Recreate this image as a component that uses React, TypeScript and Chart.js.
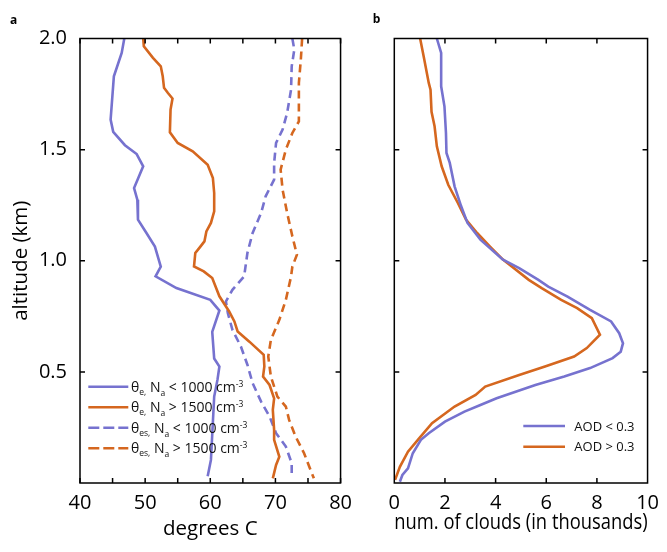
import React, { useEffect, useRef } from "react";
import { Chart, registerables } from "chart.js";
Chart.register(...registerables);

const BLUE = "#7672CF";
const ORANGE = "#D5671F";
const FONT = "'Open Sans', sans-serif";

// ---- Panel a: temperature profiles (degrees C) vs altitude (km)
const altThetaELow = [2.0, 1.935, 1.83, 1.635, 1.58, 1.52, 1.48, 1.425, 1.327, 1.275, 1.185, 1.125, 1.064, 0.974, 0.93, 0.877, 0.824, 0.776, 0.68, 0.56, 0.524, 0.464, 0.389, 0.104, 0.03];
const thetaELow = [46.8, 46.4, 45.2, 44.7, 45.1, 46.9, 48.7, 49.7, 48.3, 48.8, 48.9, 50.2, 51.5, 52.4, 51.6, 54.8, 60.0, 61.4, 60.3, 60.6, 61.4, 61.1, 60.6, 60.1, 59.6];

const altThetaEHigh = [2.0, 1.965, 1.913, 1.875, 1.83, 1.778, 1.755, 1.73, 1.68, 1.578, 1.53, 1.492, 1.432, 1.372, 1.305, 1.222, 1.17, 1.132, 1.087, 1.057, 1.035, 0.974, 0.952, 0.922, 0.84, 0.772, 0.727, 0.682, 0.636, 0.577, 0.524, 0.479, 0.441, 0.381, 0.329, 0.239, 0.194, 0.118, 0.081, 0.021];
const thetaEHigh = [49.7, 49.8, 51.2, 52.4, 52.7, 52.9, 53.5, 54.2, 53.9, 53.8, 55.0, 57.3, 59.6, 60.4, 60.6, 60.6, 60.1, 59.4, 59.1, 58.3, 57.7, 57.5, 59.0, 60.3, 61.4, 62.9, 63.7, 64.2, 66.0, 68.2, 68.3, 68.1, 69.1, 69.8, 69.6, 69.8, 69.8, 70.6, 70.1, 69.6];

const altThetaESLow = [2.0, 1.95, 1.875, 1.77, 1.665, 1.59, 1.53, 1.44, 1.365, 1.29, 1.215, 1.125, 1.035, 0.93, 0.869, 0.817, 0.764, 0.689, 0.614, 0.532, 0.449, 0.366, 0.299, 0.224, 0.164, 0.089, 0.03];
const thetaESLow = [72.6, 72.9, 72.5, 72.4, 71.8, 71.1, 70.1, 69.8, 69.8, 68.5, 67.8, 66.5, 65.7, 65.2, 63.4, 62.4, 62.7, 63.4, 64.7, 65.7, 66.5, 67.8, 69.1, 70.1, 71.6, 72.5, 72.5];

const altThetaESHigh = [2.0, 1.905, 1.8, 1.627, 1.575, 1.5, 1.41, 1.32, 1.215, 1.11, 1.027, 0.974, 0.929, 0.824, 0.734, 0.644, 0.569, 0.479, 0.389, 0.344, 0.284, 0.209, 0.134, 0.073, 0.021];
const thetaESHigh = [74.1, 73.9, 73.6, 73.6, 72.6, 71.6, 70.8, 71.1, 71.8, 72.6, 73.3, 72.6, 72.4, 71.6, 70.6, 69.3, 68.9, 69.3, 70.3, 71.6, 72.1, 73.1, 74.4, 75.2, 75.9];

// ---- Panel b: number of clouds (thousands) vs altitude (km)
const altCloudsLowAOD = [2.0, 1.935, 1.785, 1.695, 1.575, 1.485, 1.44, 1.335, 1.245, 1.17, 1.095, 1.005, 0.967, 0.914, 0.884, 0.839, 0.779, 0.727, 0.674, 0.629, 0.591, 0.562, 0.517, 0.479, 0.441, 0.381, 0.351, 0.321, 0.276, 0.224, 0.194, 0.134, 0.066, 0.036, 0.006];
const cloudsLowAOD = [1.68, 1.85, 1.85, 1.98, 2.04, 2.06, 2.19, 2.38, 2.64, 2.89, 3.4, 4.29, 4.93, 5.69, 6.08, 6.84, 7.73, 8.56, 8.88, 9.03, 8.94, 8.62, 7.73, 6.71, 5.57, 4.04, 3.4, 2.77, 2.0, 1.36, 1.05, 0.73, 0.54, 0.32, 0.22];

const altCloudsHighAOD = [2.0, 1.913, 1.8, 1.77, 1.67, 1.605, 1.515, 1.425, 1.342, 1.26, 1.185, 1.125, 1.064, 1.005, 0.914, 0.877, 0.824, 0.787, 0.742, 0.667, 0.607, 0.569, 0.524, 0.486, 0.434, 0.396, 0.344, 0.269, 0.201, 0.141, 0.073, 0.014];
const cloudsHighAOD = [1.02, 1.17, 1.36, 1.43, 1.47, 1.59, 1.68, 1.87, 2.13, 2.51, 2.83, 3.27, 3.78, 4.29, 5.31, 5.82, 6.59, 7.22, 7.8, 8.12, 7.6, 7.1, 5.95, 4.93, 3.59, 3.21, 2.38, 1.49, 0.98, 0.54, 0.22, 0.03];

// ---- Axes / ticks
const xTicksA = [40, 45, 50, 55, 60, 65, 70, 75, 80];
const xTicksB = [2, 4, 6, 8];
const yTicksInner = [0.5, 1.0, 1.5];

const legendA = [
  [["θ", 14, 0], ["e,", 8.5, 3], [" N", 14, 0], ["a", 8.5, 4], [" < 1000 cm", 14, 0], ["-3", 8.5, -5]],
  [["θ", 14, 0], ["e,", 8.5, 3], [" N", 14, 0], ["a", 8.5, 4], [" > 1500 cm", 14, 0], ["-3", 8.5, -5]],
  [["θ", 14, 0], ["es,", 8.5, 3], [" N", 14, 0], ["a", 8.5, 4], [" < 1000 cm", 14, 0], ["-3", 8.5, -5]],
  [["θ", 14, 0], ["es,", 8.5, 3], [" N", 14, 0], ["a", 8.5, 4], [" > 1500 cm", 14, 0], ["-3", 8.5, -5]],
];
const legendB = [
  [["AOD < 0.3", 13, 0]],
  [["AOD > 0.3", 13, 0]],
];

function pts(xs: number[], ys: number[]) {
  return xs.map((x, i) => ({ x, y: ys[i] }));
}

function line(label: string, xs: number[], ys: number[], color: string, dashed: boolean) {
  return {
    label,
    data: pts(xs, ys),
    borderColor: color,
    backgroundColor: color,
    borderWidth: 2.6,
    borderDash: dashed ? [8, 5] : [],
    pointRadius: 0,
    showLine: true,
    tension: 0,
    fill: false,
  };
}

function makeFrame(cfg: any) {
  return {
    id: "frame",
    afterDraw(chart: any) {
      const { ctx, chartArea, scales } = chart;
      const { left, right, top, bottom } = chartArea;
      ctx.save();
      ctx.strokeStyle = "#000";
      ctx.lineWidth = 1.5;
      ctx.setLineDash([]);
      ctx.strokeRect(left, top, right - left, bottom - top);
      const L = 5;
      ctx.beginPath();
      for (const v of cfg.xTicks) {
        const px = scales.x.getPixelForValue(v);
        ctx.moveTo(px, bottom);
        ctx.lineTo(px, bottom - L);
        ctx.moveTo(px, top);
        ctx.lineTo(px, top + L);
      }
      for (const v of cfg.yTicks) {
        const py = scales.y.getPixelForValue(v);
        ctx.moveTo(left, py);
        ctx.lineTo(left + L, py);
        ctx.moveTo(right, py);
        ctx.lineTo(right - L, py);
      }
      ctx.stroke();

      // panel letter
      ctx.fillStyle = "#000";
      ctx.font = `bold 12px ${FONT}`;
      ctx.textAlign = "left";
      ctx.textBaseline = "alphabetic";
      ctx.fillText(cfg.letter, cfg.letterX, cfg.letterY);

      // legend
      const lg = cfg.legend;
      lg.items.forEach((parts: any[], i: number) => {
        const ds = chart.data.datasets[i];
        const y = lg.y0 + i * lg.dy;
        ctx.strokeStyle = ds.borderColor;
        ctx.lineWidth = 2.6;
        ctx.setLineDash(ds.borderDash && ds.borderDash.length ? lg.dash : []);
        ctx.beginPath();
        ctx.moveTo(lg.x0, y);
        ctx.lineTo(lg.x1, y);
        ctx.stroke();
        ctx.setLineDash([]);
        let x = lg.textX;
        const base = y + lg.baseOff;
        ctx.fillStyle = "#111";
        for (const [t, s, dy] of parts) {
          ctx.font = `${s}px ${FONT}`;
          ctx.fillText(t, x, base + dy);
          x += ctx.measureText(t).width;
        }
      });
      ctx.restore();
    },
  };
}

const tickFont = { family: FONT, size: 20 };

function PanelA() {
  const ref = useRef<HTMLCanvasElement>(null);
  useEffect(() => {
    const chart = new Chart(ref.current!, {
      type: "scatter",
      data: {
        datasets: [
          line("θe, Na < 1000 cm-3", thetaELow, altThetaELow, BLUE, false),
          line("θe, Na > 1500 cm-3", thetaEHigh, altThetaEHigh, ORANGE, false),
          line("θes, Na < 1000 cm-3", thetaESLow, altThetaESLow, BLUE, true),
          line("θes, Na > 1500 cm-3", thetaESHigh, altThetaESHigh, ORANGE, true),
        ],
      } as any,
      options: {
        animation: false,
        responsive: false,
        layout: { padding: { top: 38.5, right: 18.3, left: 0, bottom: 0 } },
        plugins: { legend: { display: false }, tooltip: { enabled: false } },
        scales: {
          x: {
            type: "linear",
            min: 40,
            max: 80,
            grid: { display: false, drawTicks: false },
            border: { display: false },
            ticks: { stepSize: 10, font: tickFont, color: "#000", padding: 8 },
            title: { display: true, text: "degrees C", font: { family: FONT, size: 20.5 }, color: "#000", padding: { top: 0, bottom: 11 } },
            afterFit: (s: any) => { s.height = 69; },
          },
          y: {
            type: "linear",
            min: 0,
            max: 2,
            grid: { display: false, drawTicks: false },
            border: { display: false },
            ticks: {
              stepSize: 0.5,
              font: tickFont,
              color: "#000",
              padding: 13,
              callback: (v: any) => (Number(v) === 0 ? "" : Number(v).toFixed(1)),
            },
            title: { display: true, text: "altitude (km)", font: { family: FONT, size: 20.5 }, color: "#000", padding: { top: 9, bottom: 0 } },
            afterFit: (s: any) => { s.width = 80; },
          },
        },
      } as any,
      plugins: [
        makeFrame({
          xTicks: xTicksA,
          yTicks: yTicksInner,
          letter: "a",
          letterX: 10,
          letterY: 23.5,
          legend: { x0: 88.3, x1: 128.3, textX: 131, y0: 386.7, dy: 20.5, baseOff: 5, dash: [11, 4], items: legendA },
        }),
      ],
    });
    return () => chart.destroy();
  }, []);
  return <canvas ref={ref} width={360} height={552} style={{ position: "absolute", left: 0, top: 0 }} />;
}

function PanelB() {
  const ref = useRef<HTMLCanvasElement>(null);
  useEffect(() => {
    const chart = new Chart(ref.current!, {
      type: "scatter",
      data: {
        datasets: [
          line("AOD < 0.3", cloudsLowAOD, altCloudsLowAOD, BLUE, false),
          line("AOD > 0.3", cloudsHighAOD, altCloudsHighAOD, ORANGE, false),
        ],
      } as any,
      options: {
        animation: false,
        responsive: false,
        layout: { padding: { top: 38.5, right: 11, left: 0, bottom: 0 } },
        plugins: { legend: { display: false }, tooltip: { enabled: false } },
        scales: {
          x: {
            type: "linear",
            min: 0,
            max: 10,
            grid: { display: false, drawTicks: false },
            border: { display: false },
            ticks: { stepSize: 2, font: tickFont, color: "#000", padding: 8 },
            title: { display: true, text: "num. of clouds (in thousands)", font: { family: FONT, size: 21.5 }, color: "#000", padding: { top: 0, bottom: 16 } },
            afterFit: (s: any) => { s.height = 69; },
          },
          y: {
            type: "linear",
            min: 0,
            max: 2,
            grid: { display: false, drawTicks: false },
            border: { display: false },
            ticks: { display: false, stepSize: 0.5 },
            afterFit: (s: any) => { s.width = 34.3; },
          },
        },
      } as any,
      plugins: [
        makeFrame({
          xTicks: xTicksB,
          yTicks: yTicksInner,
          letter: "b",
          letterX: 12.7,
          letterY: 23.3,
          legend: { x0: 163.3, x1: 205, textX: 214.3, y0: 426, dy: 20.7, baseOff: 4.7, dash: [], items: legendB },
        }),
      ],
    });
    return () => chart.destroy();
  }, []);
  return <canvas ref={ref} width={307} height={552} style={{ position: "absolute", left: 360, top: 0 }} />;
}

export default function App() {
  return (
    <div style={{ position: "absolute", left: 0, top: 0, width: 667, height: 552, background: "#fff" }}>
      <PanelA />
      <PanelB />
    </div>
  );
}
